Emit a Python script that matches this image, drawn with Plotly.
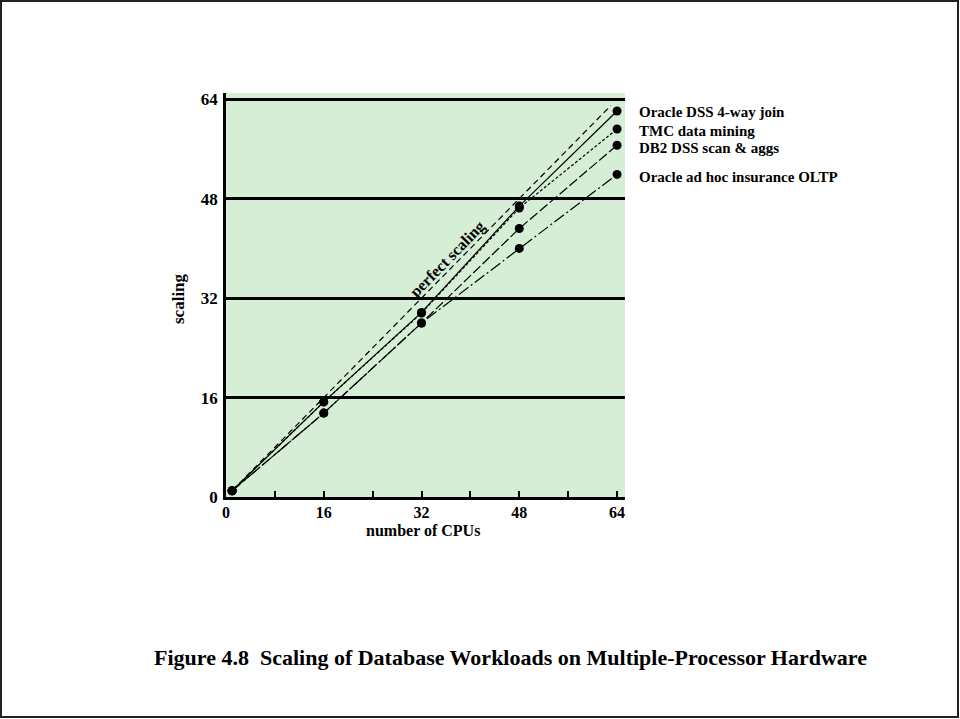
import plotly.graph_objects as go

# ---- data ----
cpus = [1, 16, 32, 48, 64]
oracle_dss = [1, 15.3, 29.7, 46.8, 62.1]
tmc_mining = [1, 15.3, 29.6, 46.5, 59.2]
db2_dss = [1, 13.5, 28.0, 43.2, 56.6]
oracle_oltp = [1, 13.5, 28.0, 40.0, 51.9]
perfect_x = [1, 63]
perfect_y = [1, 63]

series_names = ["Oracle DSS 4-way join", "TMC data mining",
                "DB2 DSS scan & aggs", "Oracle ad hoc insurance OLTP"]
x_ticks = [0, 8, 16, 24, 32, 40, 48, 56, 64]
x_ticktext = ["0", "", "16", "", "32", "", "48", "", "64"]
y_ticks = [0, 16, 32, 48, 64]

FONT = "Liberation Serif"

# plot area in pixels
L, R, T, B = 226, 625, 93, 497
W, H = 960, 719

def px(xp):
    return (xp - L) / (R - L)

def py(yp):
    return (B - yp) / (B - T)

def bfont(size):
    return dict(family=FONT, size=size, color="black", weight="bold")

fig = go.Figure()

fig.add_trace(go.Scatter(x=perfect_x, y=perfect_y, mode="lines",
                         line=dict(color="black", width=1.2, dash="6px,4px"),
                         showlegend=False, hoverinfo="skip"))

styles = ["solid", "3px,2px", "10px,3px", "12px,3px,2px,3px"]
for name, ys, dash in zip(series_names, [oracle_dss, tmc_mining, db2_dss, oracle_oltp], styles):
    fig.add_trace(go.Scatter(x=cpus, y=ys, mode="lines+markers", name=name,
                             line=dict(color="black", width=1.2, dash=dash),
                             marker=dict(color="black", size=9),
                             showlegend=False, cliponaxis=False))

# labels at right of end points (pixel rows of the reference)
label_rows = [112, 131, 148, 177]
for name, row in zip(series_names, label_rows):
    fig.add_annotation(xref="paper", yref="paper", x=px(637), y=py(row),
                       text=name, showarrow=False,
                       xanchor="left", yanchor="middle", font=bfont(15))

fig.add_annotation(x=36.3, y=38.3, text="perfect scaling", showarrow=False,
                   xanchor="center", yanchor="middle",
                   textangle=-45.6, font=bfont(16))

fig.add_annotation(xref="paper", yref="paper", x=px(178), y=py(299),
                   xanchor="center", yanchor="middle",
                   text="scaling", textangle=-90, showarrow=False, font=bfont(17))
fig.add_annotation(xref="paper", yref="paper", x=px(423), y=py(530),
                   xanchor="center", yanchor="middle",
                   text="number of CPUs", showarrow=False, font=bfont(16))
fig.add_annotation(xref="paper", yref="paper", x=px(510), y=py(657),
                   xanchor="center", yanchor="middle",
                   text="Figure 4.8  Scaling of Database Workloads on Multiple-Processor Hardware",
                   showarrow=False, font=bfont(22))

# border
fig.add_shape(type="rect", xref="paper", yref="paper",
              x0=px(1), x1=px(958), y0=py(717), y1=py(1),
              line=dict(color="#222", width=2), layer="below")

fig.update_layout(
    width=W, height=H,
    margin=dict(l=L, r=W - R, t=T, b=H - B),
    paper_bgcolor="white", plot_bgcolor="#d6eed6",
    font=bfont(15),
    xaxis=dict(range=[0, 65.3], tickvals=x_ticks, ticktext=x_ticktext,
               ticks="inside", ticklen=6, tickwidth=1.5, tickcolor="black",
               showgrid=False, zeroline=False, showline=True, linecolor="black",
               linewidth=2.5, tickfont=bfont(16), ticklabelstandoff=-1),
    yaxis=dict(range=[0, 65], tickvals=y_ticks, ticks="", showgrid=True,
               gridcolor="black", gridwidth=2.5, zeroline=False, showline=True,
               linecolor="black", linewidth=2.5, tickfont=bfont(17),
               ticklabelstandoff=2),
)

fig.write_html("out.html", config={"displayModeBar": False},
               post_script="document.body.style.margin='0';")
